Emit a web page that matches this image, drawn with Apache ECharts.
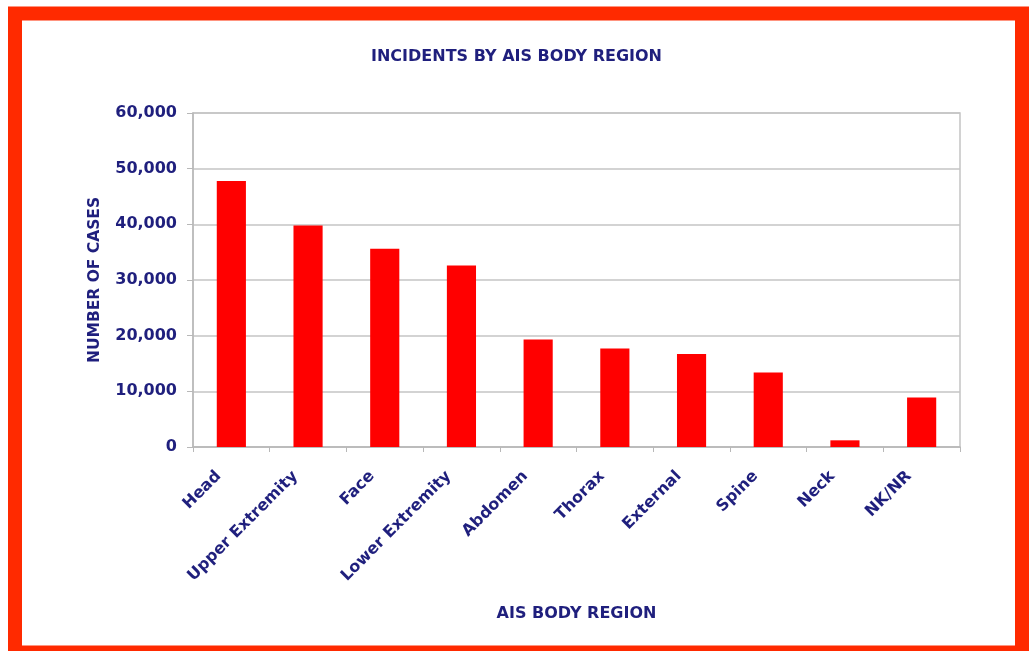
<!DOCTYPE html>
<html>
<head>
<meta charset="utf-8">
<script src="https://cdn.jsdelivr.net/npm/echarts@6/dist/echarts.min.js"></script>
<style>
html,body{margin:0;padding:0;background:#fff;}
#c{width:1033px;height:651px;}
</style>
</head>
<body>
<div id="c"></div>
<script>
const categories = ["Head", "Upper Extremity", "Face", "Lower Extremity", "Abdomen", "Thorax", "External", "Spine", "Neck", "NK/NR"];
const cases = [47800, 39800, 35600, 32600, 19300, 17700, 16700, 13400, 1200, 8900];
const yTicks = [0, 10000, 20000, 30000, 40000, 50000, 60000];

const navy = '#1f1f7d';
const font = 'DejaVu Sans';
const chart = echarts.init(document.getElementById('c'), null, {renderer: 'canvas'});
chart.setOption({
  backgroundColor: '#ffffff',
  animation: false,
  graphic: [{
    type: 'rect',
    shape: {x: 15, y: 13.5, width: 1007, height: 639},
    style: {fill: 'none', stroke: '#ff2a00', lineWidth: 14},
    z: 100
  }],
  title: {
    text: 'INCIDENTS BY AIS BODY REGION',
    left: 'center',
    top: 44,
    textStyle: {color: navy, fontFamily: font, fontWeight: 'bold', fontSize: 16}
  },
  grid: {
    left: 193, right: 73, top: 113, bottom: 204,
    show: true, borderColor: '#c4c4c4', borderWidth: 1.5, backgroundColor: 'transparent'
  },
  xAxis: {
    type: 'category',
    data: categories,
    name: 'AIS BODY REGION',
    nameLocation: 'middle',
    nameGap: 159,
    nameTextStyle: {color: navy, fontFamily: font, fontWeight: 'bold', fontSize: 16},
    axisLine: {lineStyle: {color: '#b8b8b8', width: 1.5}},
    axisTick: {show: true, alignWithLabel: false, length: 5, lineStyle: {color: '#b8b8b8'}},
    axisLabel: {rotate: 45, interval: 0, margin: 14, padding: [0, 18, 0, 0], color: navy, fontFamily: font, fontWeight: 'bold', fontSize: 16}
  },
  yAxis: {
    type: 'value',
    min: 0, max: 60000, interval: 10000,
    name: 'NUMBER OF CASES',
    nameLocation: 'middle',
    nameGap: 90,
    nameRotate: 90,
    nameTextStyle: {color: navy, fontFamily: font, fontWeight: 'bold', fontSize: 15.5},
    axisLine: {show: true, lineStyle: {color: '#b8b8b8', width: 1.5}},
    axisTick: {show: true, length: 6, lineStyle: {color: '#b8b8b8'}},
    axisLabel: {
      margin: 16, color: navy, fontFamily: font, fontWeight: 'bold', fontSize: 16,
      formatter: v => yTicks.includes(v) ? v.toLocaleString('en-US') : ''
    },
    splitLine: {show: true, lineStyle: {color: '#c4c4c4', width: 1.5}}
  },
  series: [{
    type: 'bar',
    data: cases,
    barWidth: '38%',
    itemStyle: {color: '#ff0000'}
  }]
});
</script>
</body>
</html>
